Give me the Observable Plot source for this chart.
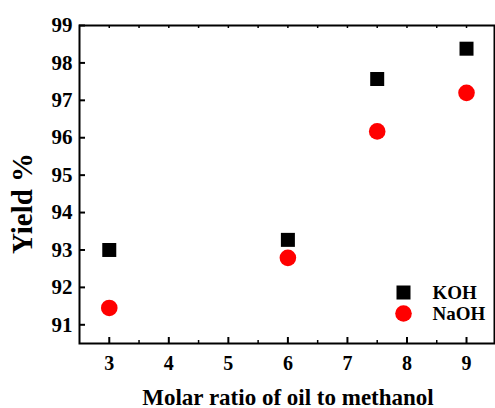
<!DOCTYPE html>
<html>
<head>
<meta charset="utf-8">
<script src="https://cdn.jsdelivr.net/npm/d3@7"></script>
<script src="https://cdn.jsdelivr.net/npm/@observablehq/plot@0.6"></script>
<style>
  html, body { margin: 0; padding: 0; background: #fff; }
  svg { display: block; }
</style>
</head>
<body>
<div id="chart"></div>
<script>
const ratios = [3, 6, 7.5, 9];
const kohYield = [93.0, 93.27, 97.57, 98.38];
const naohYield = [91.45, 92.79, 96.17, 97.2];
const xTickLabels = [3, 4, 5, 6, 7, 8, 9];
const yTickLabels = [91, 92, 93, 94, 95, 96, 97, 98, 99];
const xMinorTicks = [3.5, 4.5, 5.5, 6.5, 7.5, 8.5];
const xTopTicks = [3, 3.5, 4, 4.5, 5, 5.5, 6, 6.5, 7, 7.5, 8, 8.5, 9];
const seriesNames = ["KOH", "NaOH"];
const seriesColors = ["#000000", "#ff0000"];

const koh = ratios.map((r, i) => ({x: r, y: kohYield[i]}));
const naoh = ratios.map((r, i) => ({x: r, y: naohYield[i]}));

const W = 495, H = 408;
const mL = 79, mR = 1, mT = 25, mB = 65;
const frameW = W - mL - mR, frameH = H - mT - mB;
const font = "'Liberation Serif', 'Times New Roman', serif";

const chart = Plot.plot({
  width: W,
  height: H,
  marginLeft: mL,
  marginRight: mR,
  marginTop: mT,
  marginBottom: mB,
  style: {fontFamily: font, fontWeight: "bold", color: "#000", background: "#fff"},
  x: {domain: [2.5, 9.47]},
  y: {domain: [90.5, 99]},
  marks: [
    Plot.axisX(xTickLabels, {tickSize: 0, tickPadding: 12, fontSize: 20, fontWeight: "bold", label: null, fill: "#000"}),
    Plot.axisY(yTickLabels, {tickSize: 0, tickPadding: 7, fontSize: 21, fontWeight: "bold", label: null, fill: "#000"}),
    // inward ticks
    Plot.tickX(xTickLabels, {x: d => d, insetTop: frameH - 6, stroke: "#000", strokeWidth: 2}),
    Plot.tickX(xMinorTicks, {x: d => d, insetTop: frameH - 3, stroke: "#000", strokeWidth: 1.5}),
    Plot.tickX(xTopTicks, {x: d => d, insetBottom: frameH - 3, stroke: "#000", strokeWidth: 1.5}),
    Plot.tickY(yTickLabels, {y: d => d, insetRight: frameW - 6, stroke: "#000", strokeWidth: 2}),
    Plot.frame({stroke: "#000", strokeWidth: 2}),
    // data
    Plot.dot(koh, {x: "x", y: "y", symbol: "square", fill: seriesColors[0], r: 7.9}),
    Plot.dot(naoh, {x: "x", y: "y", symbol: "circle", fill: seriesColors[1], r: 8.3}),
    // legend
    Plot.dot([seriesNames[0]], {x: null, y: null, frameAnchor: "bottom-right", dx: -91, dy: -51, symbol: "square", fill: seriesColors[0], r: 7.9}),
    Plot.dot([seriesNames[1]], {x: null, y: null, frameAnchor: "bottom-right", dx: -91, dy: -30, symbol: "circle", fill: seriesColors[1], r: 8.3}),
    Plot.text([seriesNames[0]], {text: d => d, frameAnchor: "bottom-right", dx: -62, dy: -51, textAnchor: "start", lineAnchor: "middle", fontSize: 19, fontWeight: "bold", fill: "#000"}),
    Plot.text([seriesNames[1]], {text: d => d, frameAnchor: "bottom-right", dx: -62, dy: -30, textAnchor: "start", lineAnchor: "middle", fontSize: 19, fontWeight: "bold", fill: "#000"}),
    // axis titles
    Plot.text(["Molar ratio of oil to methanol"], {text: d => d, frameAnchor: "bottom", dx: 1, dy: 61, textAnchor: "middle", lineAnchor: "bottom", fontSize: 23, fontWeight: "bold", fill: "#000"}),
    Plot.text(["Yield %"], {text: d => d, frameAnchor: "left", dx: -57, dy: 19, rotate: -90, textAnchor: "middle", lineAnchor: "middle", fontSize: 29, fontWeight: "bold", fill: "#000"})
  ]
});
document.getElementById("chart").appendChild(chart);
</script>
</body>
</html>
